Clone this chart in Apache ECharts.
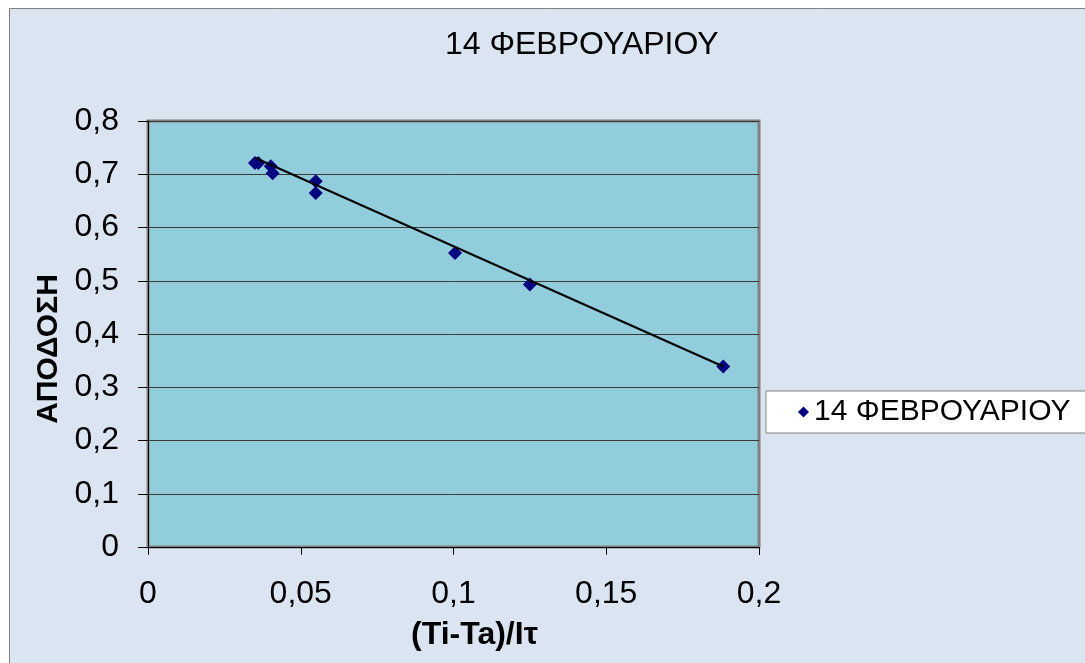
<!DOCTYPE html>
<html>
<head>
<meta charset="utf-8">
<script src="https://cdn.jsdelivr.net/npm/echarts@6/dist/echarts.min.js"></script>
<style>
html,body{margin:0;padding:0;background:#ffffff;}
#chart{width:1085px;height:663px;}
</style>
</head>
<body>
<div id="chart"></div>
<script>
const titleText = '14 ΦΕΒΡΟΥΑΡΙΟΥ';
const seriesName = '14 ΦΕΒΡΟΥΑΡΙΟΥ';
const xAxisName = '(Ti-Ta)/Iτ';
const yAxisName = 'ΑΠΟΔΟΣΗ';
const xVals = [0.0350, 0.0361, 0.0402, 0.0408, 0.0549, 0.0549, 0.1005, 0.1250, 0.1883];
const yVals = [0.721, 0.721, 0.715, 0.702, 0.687, 0.665, 0.552, 0.493, 0.339];
const trendX = [0.0350, 0.1883];
const trendY = [0.731, 0.339];

const FONT = "'Liberation Sans', Arial, sans-serif";
const fmt = v => String(Number(v.toFixed(2))).replace('.', ',');

const chart = echarts.init(document.getElementById('chart'), null, {renderer: 'canvas'});
chart.setOption({
  backgroundColor: '#ffffff',
  animation: false,
  graphic: [{
    type: 'rect', z: -10, silent: true,
    shape: {x: 9.5, y: 8.5, width: 1200, height: 800},
    style: {fill: '#DBE5F1', stroke: '#7f7f7f', lineWidth: 1}
  }],
  title: {
    text: titleText,
    left: 440, top: 24,
    textStyle: {fontFamily: FONT, fontSize: 32, fontWeight: 'normal', color: '#000'}
  },
  legend: {
    data: [seriesName],
    left: 766, top: 391,
    orient: 'vertical',
    backgroundColor: '#ffffff',
    borderColor: '#808080', borderWidth: 1, borderRadius: 0,
    padding: [6, 60, 6, 32],
    icon: 'diamond', itemWidth: 11, itemHeight: 11,
    textStyle: {fontFamily: FONT, fontSize: 30, color: '#000'}
  },
  grid: {
    left: 148, top: 121, right: 1085 - 759, bottom: 663 - 547,
    show: true, backgroundColor: '#92CDDC', borderColor: '#808080', borderWidth: 3
  },
  xAxis: {
    type: 'value', min: 0, max: 0.2, interval: 0.05,
    name: xAxisName, nameLocation: 'middle', nameGap: 72,
    nameTextStyle: {fontFamily: FONT, fontSize: 32, fontWeight: 'bold', color: '#000', padding: [0, 0, 0, 42]},
    axisLine: {show: true, onZero: false, lineStyle: {color: '#000', width: 1}},
    axisTick: {show: true, inside: false, length: 8, lineStyle: {color: '#000'}},
    axisLabel: {fontFamily: FONT, fontSize: 32, color: '#000', margin: 31, formatter: fmt},
    splitLine: {show: false}
  },
  yAxis: {
    type: 'value', min: 0, max: 0.8, interval: 0.1,
    name: yAxisName, nameLocation: 'middle', nameGap: 75, nameRotate: 90,
    nameTextStyle: {fontFamily: FONT, fontSize: 30, fontWeight: 'bold', color: '#000', padding: [0, 30, 0, 0]},
    axisLine: {show: true, onZero: false, lineStyle: {color: '#000', width: 1}},
    axisTick: {show: true, inside: false, length: 10, lineStyle: {color: '#000'}},
    axisLabel: {fontFamily: FONT, fontSize: 32, color: '#000', margin: 29, formatter: fmt},
    splitLine: {show: true, lineStyle: {color: '#3a3a3a', width: 1}}
  },
  series: [{
    name: seriesName,
    type: 'scatter',
    symbol: 'diamond', symbolSize: 14,
    itemStyle: {color: '#000080', opacity: 1},
    data: xVals.map((x, i) => [x, yVals[i]]),
    z: 3
  }, {
    name: 'trend',
    type: 'line',
    showSymbol: false, symbol: 'none',
    lineStyle: {color: '#000', width: 2},
    data: trendX.map((x, i) => [x, trendY[i]]),
    z: 4
  }]
});
</script>
</body>
</html>
